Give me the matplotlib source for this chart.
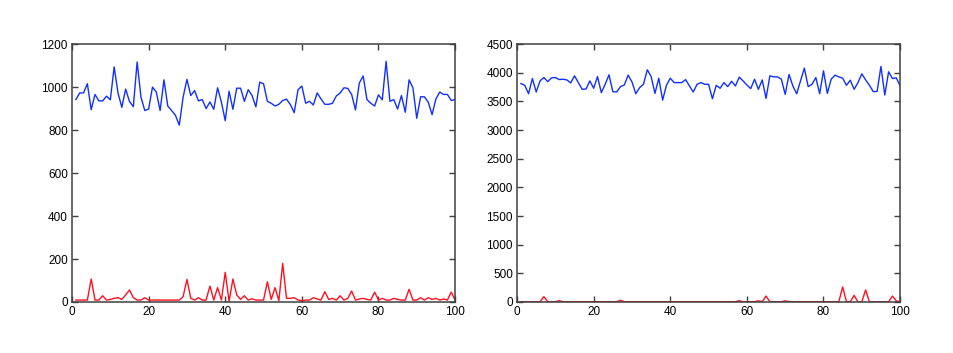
import matplotlib
matplotlib.use("Agg")
import matplotlib.pyplot as plt
import numpy as np

x = np.arange(1, 101)

left_blue = [942, 973, 973, 1016, 895, 966, 936, 936, 958, 941,
             1094, 973, 906, 991, 933, 909, 1117, 953, 891, 898,
             1000, 977, 891, 1034, 912, 891, 869, 823, 953, 1036,
             961, 984, 936, 942, 900, 931, 897, 997, 930, 844,
             981, 897, 995, 995, 934, 988, 961, 908, 1023, 1016,
             934, 925, 912, 920, 938, 944, 919, 881, 988, 1005,
             925, 934, 917, 973, 945, 920, 920, 925, 959, 973,
             997, 994, 966, 894, 1019, 1052, 942, 925, 912, 964,
             941, 1120, 934, 942, 898, 961, 883, 1034, 997, 855,
             955, 955, 930, 872, 945, 977, 966, 966, 938, 942]

left_red = [9, 9, 9, 9, 107, 9, 9, 29, 9, 12,
            17, 20, 12, 33, 56, 20, 9, 9, 20, 9,
            9, 9, 9, 9, 9, 9, 9, 9, 25, 105,
            17, 9, 20, 9, 9, 74, 9, 67, 9, 138,
            3, 107, 33, 12, 29, 9, 15, 9, 9, 9,
            94, 12, 67, 6, 180, 17, 17, 20, 9, 6,
            9, 9, 20, 14, 9, 48, 12, 17, 9, 29,
            9, 17, 51, 9, 14, 17, 12, 9, 46, 9,
            17, 9, 9, 17, 12, 9, 9, 59, 9, 9,
            20, 9, 20, 12, 17, 9, 14, 9, 46, 9]

right_blue = [3812, 3782, 3635, 3900, 3665, 3859, 3918, 3847, 3912, 3918,
              3882, 3888, 3876, 3824, 3947, 3829, 3712, 3718, 3859, 3730,
              3935, 3653, 3800, 3965, 3671, 3665, 3759, 3788, 3959, 3841,
              3635, 3741, 3800, 4053, 3935, 3641, 3906, 3524, 3782, 3906,
              3829, 3829, 3829, 3882, 3771, 3665, 3800, 3829, 3800, 3800,
              3547, 3782, 3730, 3829, 3759, 3853, 3771, 3924, 3859, 3788,
              3724, 3888, 3712, 3876, 3553, 3947, 3929, 3929, 3888, 3624,
              3971, 3771, 3635, 3859, 4082, 3759, 3800, 3918, 3635, 4035,
              3641, 3888, 3959, 3929, 3906, 3782, 3871, 3712, 3829, 3982,
              3876, 3782, 3671, 3676, 4112, 3612, 4018, 3900, 3912, 3771]

right_red = [5, 5, 5, 5, 5, 5, 93, 5, 5, 5,
             23, 5, 5, 5, 5, 5, 5, 5, 5, 5,
             5, 5, 5, 5, 5, 5, 29, 5, 5, 5,
             5, 5, 5, 5, 5, 5, 5, 5, 5, 5,
             5, 5, 5, 5, 5, 5, 5, 5, 5, 5,
             5, 5, 5, 5, 5, 5, 5, 23, 5, 5,
             5, 5, 20, 5, 104, 5, 5, 5, 5, 20,
             5, 5, 5, 5, 5, 5, 5, 5, 5, 5,
             5, 5, 5, 5, 262, 5, 5, 116, 0, 5,
             210, 0, 5, 5, 5, 5, 5, 104, 20, 5]

plt.rcParams["font.family"] = ["Liberation Sans", "DejaVu Sans"]
plt.rcParams["font.size"] = 8.5

fig = plt.figure(figsize=(9.54, 3.53), dpi=100)
ax1 = fig.add_axes([0.0755, 0.1445, 0.4015, 0.7304])
ax2 = fig.add_axes([0.542, 0.1445, 0.4015, 0.7304])

for ax, blue, red, ymax, ystep in [(ax1, left_blue, left_red, 1200, 200),
                                   (ax2, right_blue, right_red, 4500, 500)]:
    ax.plot(x, blue, color="#1030ff", lw=1.0)
    ax.plot(x, red, color="#ff1020", lw=1.0)
    ax.set_xlim(0, 100)
    ax.set_ylim(0, ymax)
    ax.set_xticks(np.arange(0, 101, 20))
    ax.set_yticks(np.arange(0, ymax + 1, ystep))
    ax.tick_params(direction="in", top=True, right=True, length=4,
                   width=1.0, color="#404040", labelsize=8.5, pad=3)
    for s in ax.spines.values():
        s.set_color("#404040")
        s.set_linewidth(1.1)

fig.savefig("out.png", dpi=100)
